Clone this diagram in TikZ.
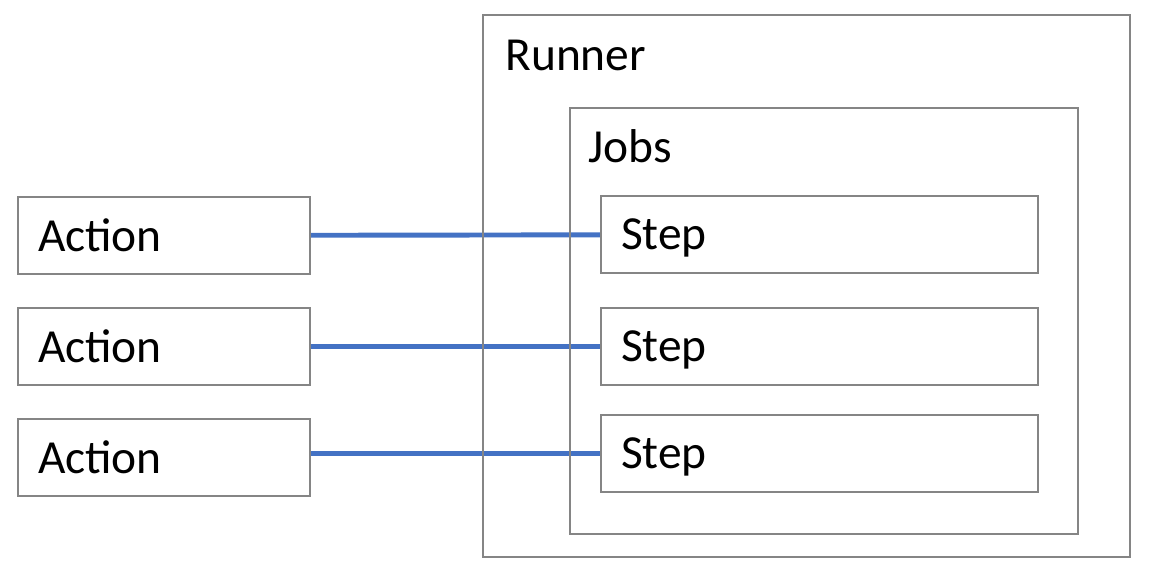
\documentclass[tikz,border=0pt]{standalone}
\usepackage{fontspec}
\setmainfont{Carlito}
\usetikzlibrary{backgrounds}
\definecolor{boxgray}{HTML}{858585}
\definecolor{linkblue}{HTML}{4472C4}
\begin{document}
\begin{tikzpicture}
\useasboundingbox (0,0) rectangle (23.14,-11.74);
\begin{scope}[every node/.style={draw=boxgray,line width=1.1pt,inner sep=0pt}]
    \node (R) at (16.13,-5.72) [minimum width=12.94cm,minimum height=10.84cm] {};
    \node (J) at (16.48,-6.42) [minimum width=10.16cm,minimum height=8.52cm] {};
\end{scope}
\begin{scope}[every node/.style={draw=boxgray,line width=1.1pt,fill=white,
              minimum height=1.54cm,inner xsep=0.4cm,align=left,text depth=0pt,
              font=\fontsize{27}{30}\selectfont}]
    \node (A1) at (3.28,-4.71) [text width=5.04cm] {Action};
    \node (A2) at (3.28,-6.93) [text width=5.04cm] {Action};
    \node (A3) at (3.28,-9.15) [text width=5.04cm] {Action};
    \node (S1) at (16.39,-4.69) [text width=7.94cm] {Step};
    \node (S2) at (16.39,-6.93) [text width=7.94cm] {Step};
    \node (S3) at (16.39,-9.07) [text width=7.94cm] {Step};
\end{scope}
\begin{scope}[every node/.style={anchor=base west,inner sep=0pt,font=\fontsize{27}{30}\selectfont}]
    \node (RL) at (10.1,-1.4) {Runner};
    \node (JL) at (11.76,-3.24) {Jobs};
\end{scope}
\begin{scope}[on background layer,every edge/.style={draw=linkblue,line width=2.8pt}]
    \path [-] (A1) edge (S1);
    \path [-] (A2) edge (S2);
    \path [-] ([yshift=0.08cm]A3.east) edge (S3);
\end{scope}
\end{tikzpicture}
\end{document}
